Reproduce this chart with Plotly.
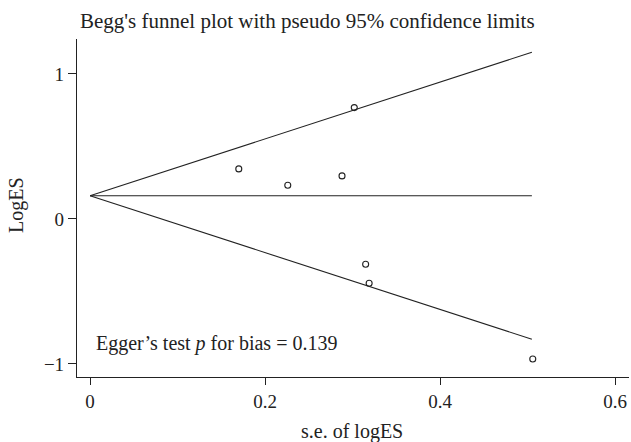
import plotly.graph_objects as go

# Study data (standard error, log effect size)
se_values = [0.170, 0.226, 0.288, 0.302, 0.315, 0.319, 0.506]
log_es = [0.345, 0.232, 0.297, 0.768, -0.312, -0.443, -0.966]

# Pooled estimate and pseudo 95% limits endpoints
limit_x = [0.0, 0.505]
pooled_y = [0.16, 0.16]
upper_y = [0.16, 1.15]
lower_y = [0.16, -0.83]

x_ticks = [0, 0.2, 0.4, 0.6]
x_ticklabels = ["0", "0.2", "0.4", "0.6"]
y_ticks = [-1, 0, 1]
y_ticklabels = ["\u22121", "0", "1"]

FONT = "Liberation Serif"
INK = "#222"

fig = go.Figure()
line_style = dict(color=INK, width=1.1)
for ys in (upper_y, pooled_y, lower_y):
    fig.add_trace(go.Scatter(x=limit_x, y=ys, mode="lines", line=line_style,
                             hoverinfo="skip", showlegend=False))
fig.add_trace(go.Scatter(x=se_values, y=log_es, mode="markers",
                         marker=dict(symbol="circle-open", size=6,
                                     color=INK, line=dict(width=1.1)),
                         showlegend=False))

fig.update_layout(
    width=631, height=442,
    margin=dict(l=77, r=2, t=39, b=65),
    plot_bgcolor="white", paper_bgcolor="white",
    font=dict(family=FONT, size=19, color=INK),
    title=dict(text="Begg's funnel plot with pseudo 95% confidence limits",
               x=0.487, xanchor="center", xref="container",
               y=0.954, yanchor="middle", yref="container",
               font=dict(family=FONT, size=21, color=INK)),
    xaxis=dict(range=[-0.0149, 0.616], tickvals=x_ticks, ticktext=x_ticklabels,
               showline=True, linecolor=INK, linewidth=1.2,
               ticks="outside", ticklen=7, tickcolor=INK, tickwidth=1.2,
               showgrid=False, zeroline=False, automargin=False,
               tickfont=dict(family=FONT, size=19, color=INK)),
    yaxis=dict(range=[-1.09, 1.241], tickvals=y_ticks, ticktext=y_ticklabels,
               showline=True, linecolor=INK, linewidth=1.2,
               ticks="outside", ticklen=8, tickcolor=INK, tickwidth=1.2,
               showgrid=False, zeroline=False, automargin=False,
               tickfont=dict(family=FONT, size=19, color=INK)),
    annotations=[
        dict(x=0.005, y=-0.862, xref="x", yref="y", xanchor="left", yanchor="middle",
             text="Egger\u2019s test <i>p</i> for bias = 0.139", showarrow=False,
             font=dict(family=FONT, size=20, color=INK)),
        dict(x=0.498, y=-0.1627, xref="paper", yref="paper", xanchor="center",
             yanchor="middle", text="s.e. of logES", showarrow=False,
             font=dict(family=FONT, size=20, color=INK)),
        dict(x=-0.1087, y=0.509, xref="paper", yref="paper", xanchor="center",
             yanchor="middle", text="LogES", showarrow=False, textangle=-90,
             font=dict(family=FONT, size=20, color=INK)),
    ],
)

fig.write_html("out.html",
               config={"displayModeBar": False},
               post_script="document.body.style.margin='0';"
                           "document.body.style.overflow='hidden';")
